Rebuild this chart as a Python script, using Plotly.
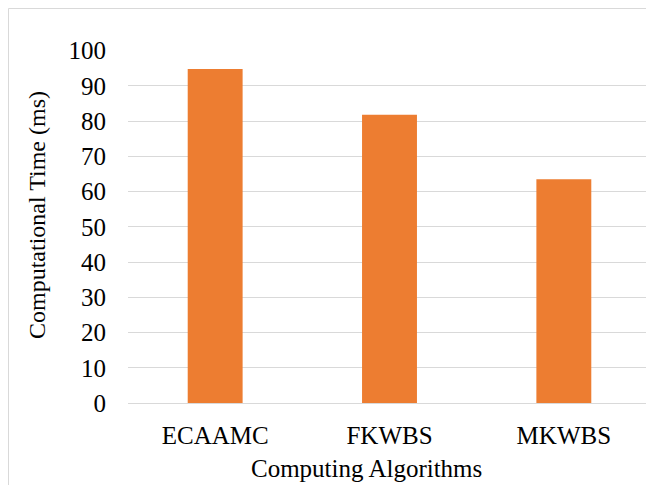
import plotly.graph_objects as go

categories = ["ECAAMC", "FKWBS", "MKWBS"]
times_ms = [94.8, 81.8, 63.5]
y_ticks = [0, 10, 20, 30, 40, 50, 60, 70, 80, 90, 100]

# page has an 8px body margin, so figure is sized to fit the window
W, H = 646, 477
L, R, T, B = 120, 3, 42, 82
pw = W - L - R
ph = H - T - B

def px_x(p):
    return (p - L) / pw

def px_y(p):
    return (H - B - p) / ph

font = "Liberation Serif, Times New Roman, serif"
FS = 25

fig = go.Figure(go.Bar(
    x=categories, y=times_ms,
    marker=dict(color="#ED7D31", line=dict(width=0)),
    width=0.315,
))

fig.update_layout(
    width=W, height=H,
    margin=dict(l=L, r=R, t=T, b=B),
    paper_bgcolor="white", plot_bgcolor="white",
    showlegend=False,
    font=dict(family=font, size=FS, color="#000000"),
    xaxis=dict(
        showgrid=False, showline=True, linecolor="#D9D9D9", linewidth=1,
        ticks="", tickfont=dict(family=font, size=FS, color="#000000"),
        ticklabelstandoff=10,
    ),
    yaxis=dict(
        range=[0, 100.2], tickvals=y_ticks, ticktext=[str(v) for v in y_ticks],
        showgrid=True, gridcolor="#D9D9D9", gridwidth=1,
        zeroline=False, showline=False, ticks="",
        tickfont=dict(family=font, size=FS, color="#000000"),
        ticklabelstandoff=21,
    ),
    annotations=[
        dict(text="Computational Time (ms)", textangle=-90,
             xref="paper", yref="paper", x=px_x(29), y=px_y(207),
             xanchor="center", yanchor="middle", showarrow=False,
             font=dict(family=font, size=24, color="#000000")),
        dict(text="Computing Algorithms",
             xref="paper", yref="paper", x=px_x(358), y=px_y(460),
             xanchor="center", yanchor="middle", showarrow=False,
             font=dict(family=font, size=FS, color="#000000")),
    ],
    shapes=[
        dict(type="rect", xref="paper", yref="paper",
             x0=px_x(0.5), x1=px_x(700), y0=px_y(520), y1=px_y(0.5),
             line=dict(color="#D9D9D9", width=1), fillcolor="rgba(0,0,0,0)",
             layer="below"),
    ],
)

fig.write_html("out.html")
